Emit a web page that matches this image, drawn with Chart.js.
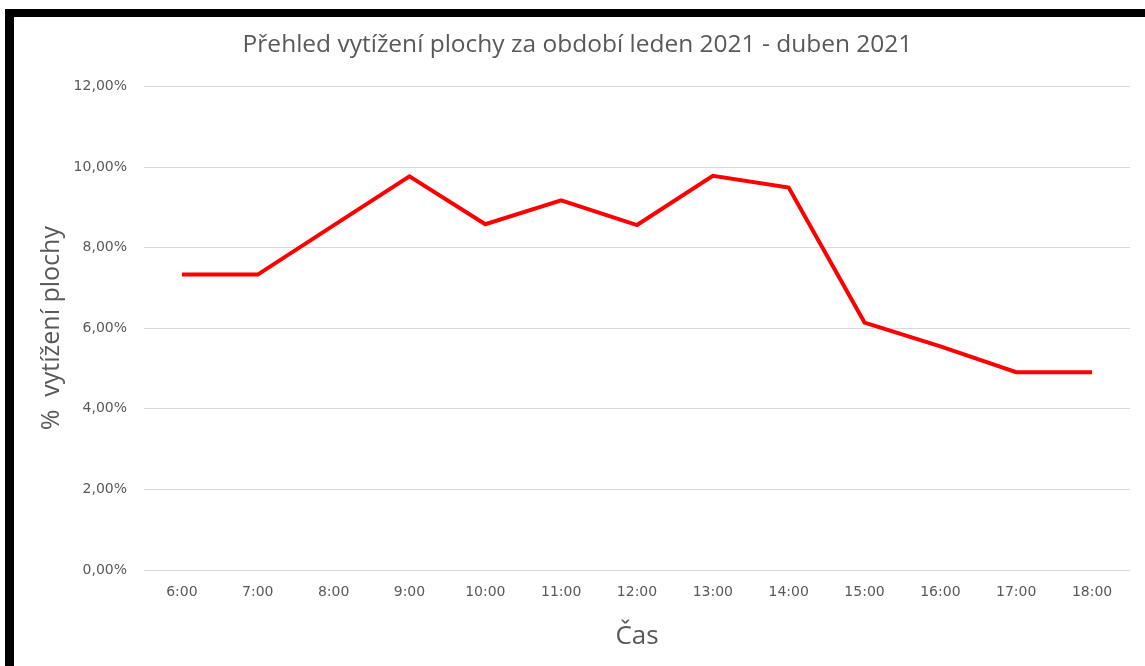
<!DOCTYPE html>
<html>
<head>
<meta charset="utf-8">
<script src="https://cdn.jsdelivr.net/npm/chart.js@4"></script>
<style>
  html, body { margin: 0; padding: 0; background: #fff; }
  #wrap { position: relative; width: 1145px; height: 666px; overflow: hidden; }
  #chart { position: absolute; left: 0; top: 0; }
  .bar { position: absolute; background: #000; }
</style>
</head>
<body>
<div id="wrap">
  <canvas id="chart" width="1145" height="666"></canvas>
  <div class="bar" style="left:5px; top:9px; width:1140px; height:8px;"></div>
  <div class="bar" style="left:5px; top:9px; width:9px; height:657px;"></div>
</div>
<script>
// data
const hours = ["6:00", "7:00", "8:00", "9:00", "10:00", "11:00", "12:00",
  "13:00", "14:00", "15:00", "16:00", "17:00", "18:00"];
const usage = [7.33, 7.33, 8.55, 9.77, 8.58, 9.17, 8.56, 9.78, 9.49, 6.14, 5.55, 4.91, 4.91];

const chartTitle = "Přehled vytížení plochy za období leden 2021 - duben 2021";
const yTitle = "%  vytížení plochy";
const xTitle = "Čas";

const grey = "#595959";
const tickFont = { family: "DejaVu Sans", size: 14 };
const titleFamily = "Open Sans";

// format 8 -> "8,00%"
const pct = (v) => v.toFixed(2).replace(".", ",") + "%";

const ctx = document.getElementById("chart").getContext("2d");
new Chart(ctx, {
  type: "line",
  data: {
    labels: hours,
    datasets: [
      {
        label: "vytížení",
        data: usage,
        borderColor: "#ff0000",
        backgroundColor: "#ff0000",
        borderWidth: 4,
        pointRadius: 0,
        tension: 0,
        fill: false,
      },
    ],
  },
  options: {
    responsive: false,
    animation: false,
    devicePixelRatio: 1,
    // left padding keeps the title centred like the original
    layout: { padding: { left: 25, right: 15, top: 0, bottom: 0 } },
    plugins: {
      legend: { display: false },
      tooltip: { enabled: false },
      title: {
        display: true,
        text: chartTitle,
        color: grey,
        font: { family: titleFamily, size: 24.5, weight: "normal" },
        padding: { top: 30, bottom: 27 },
      },
    },
    scales: {
      x: {
        offset: true,
        grid: { display: false, drawTicks: false },
        border: { display: false },
        ticks: { color: grey, font: tickFont, padding: 14, maxRotation: 0 },
        title: {
          display: true,
          text: xTitle,
          color: grey,
          font: { family: titleFamily, size: 26 },
          padding: { top: 0, bottom: 14 },
        },
        afterFit: (scale) => {
          scale.height = 96;
        },
      },
      y: {
        min: 0,
        max: 12,
        grid: { color: "#d9d9d9", lineWidth: 1, drawTicks: false },
        border: { display: false },
        ticks: {
          stepSize: 2,
          color: grey,
          font: tickFont,
          padding: 17,
          callback: (v) => pct(v),
        },
        title: {
          display: true,
          text: yTitle,
          color: grey,
          font: { family: titleFamily, size: 25 },
          padding: { top: 12, bottom: 0 },
        },
        afterFit: (scale) => {
          scale.width = 119;
        },
      },
    },
  },
});
</script>
</body>
</html>
